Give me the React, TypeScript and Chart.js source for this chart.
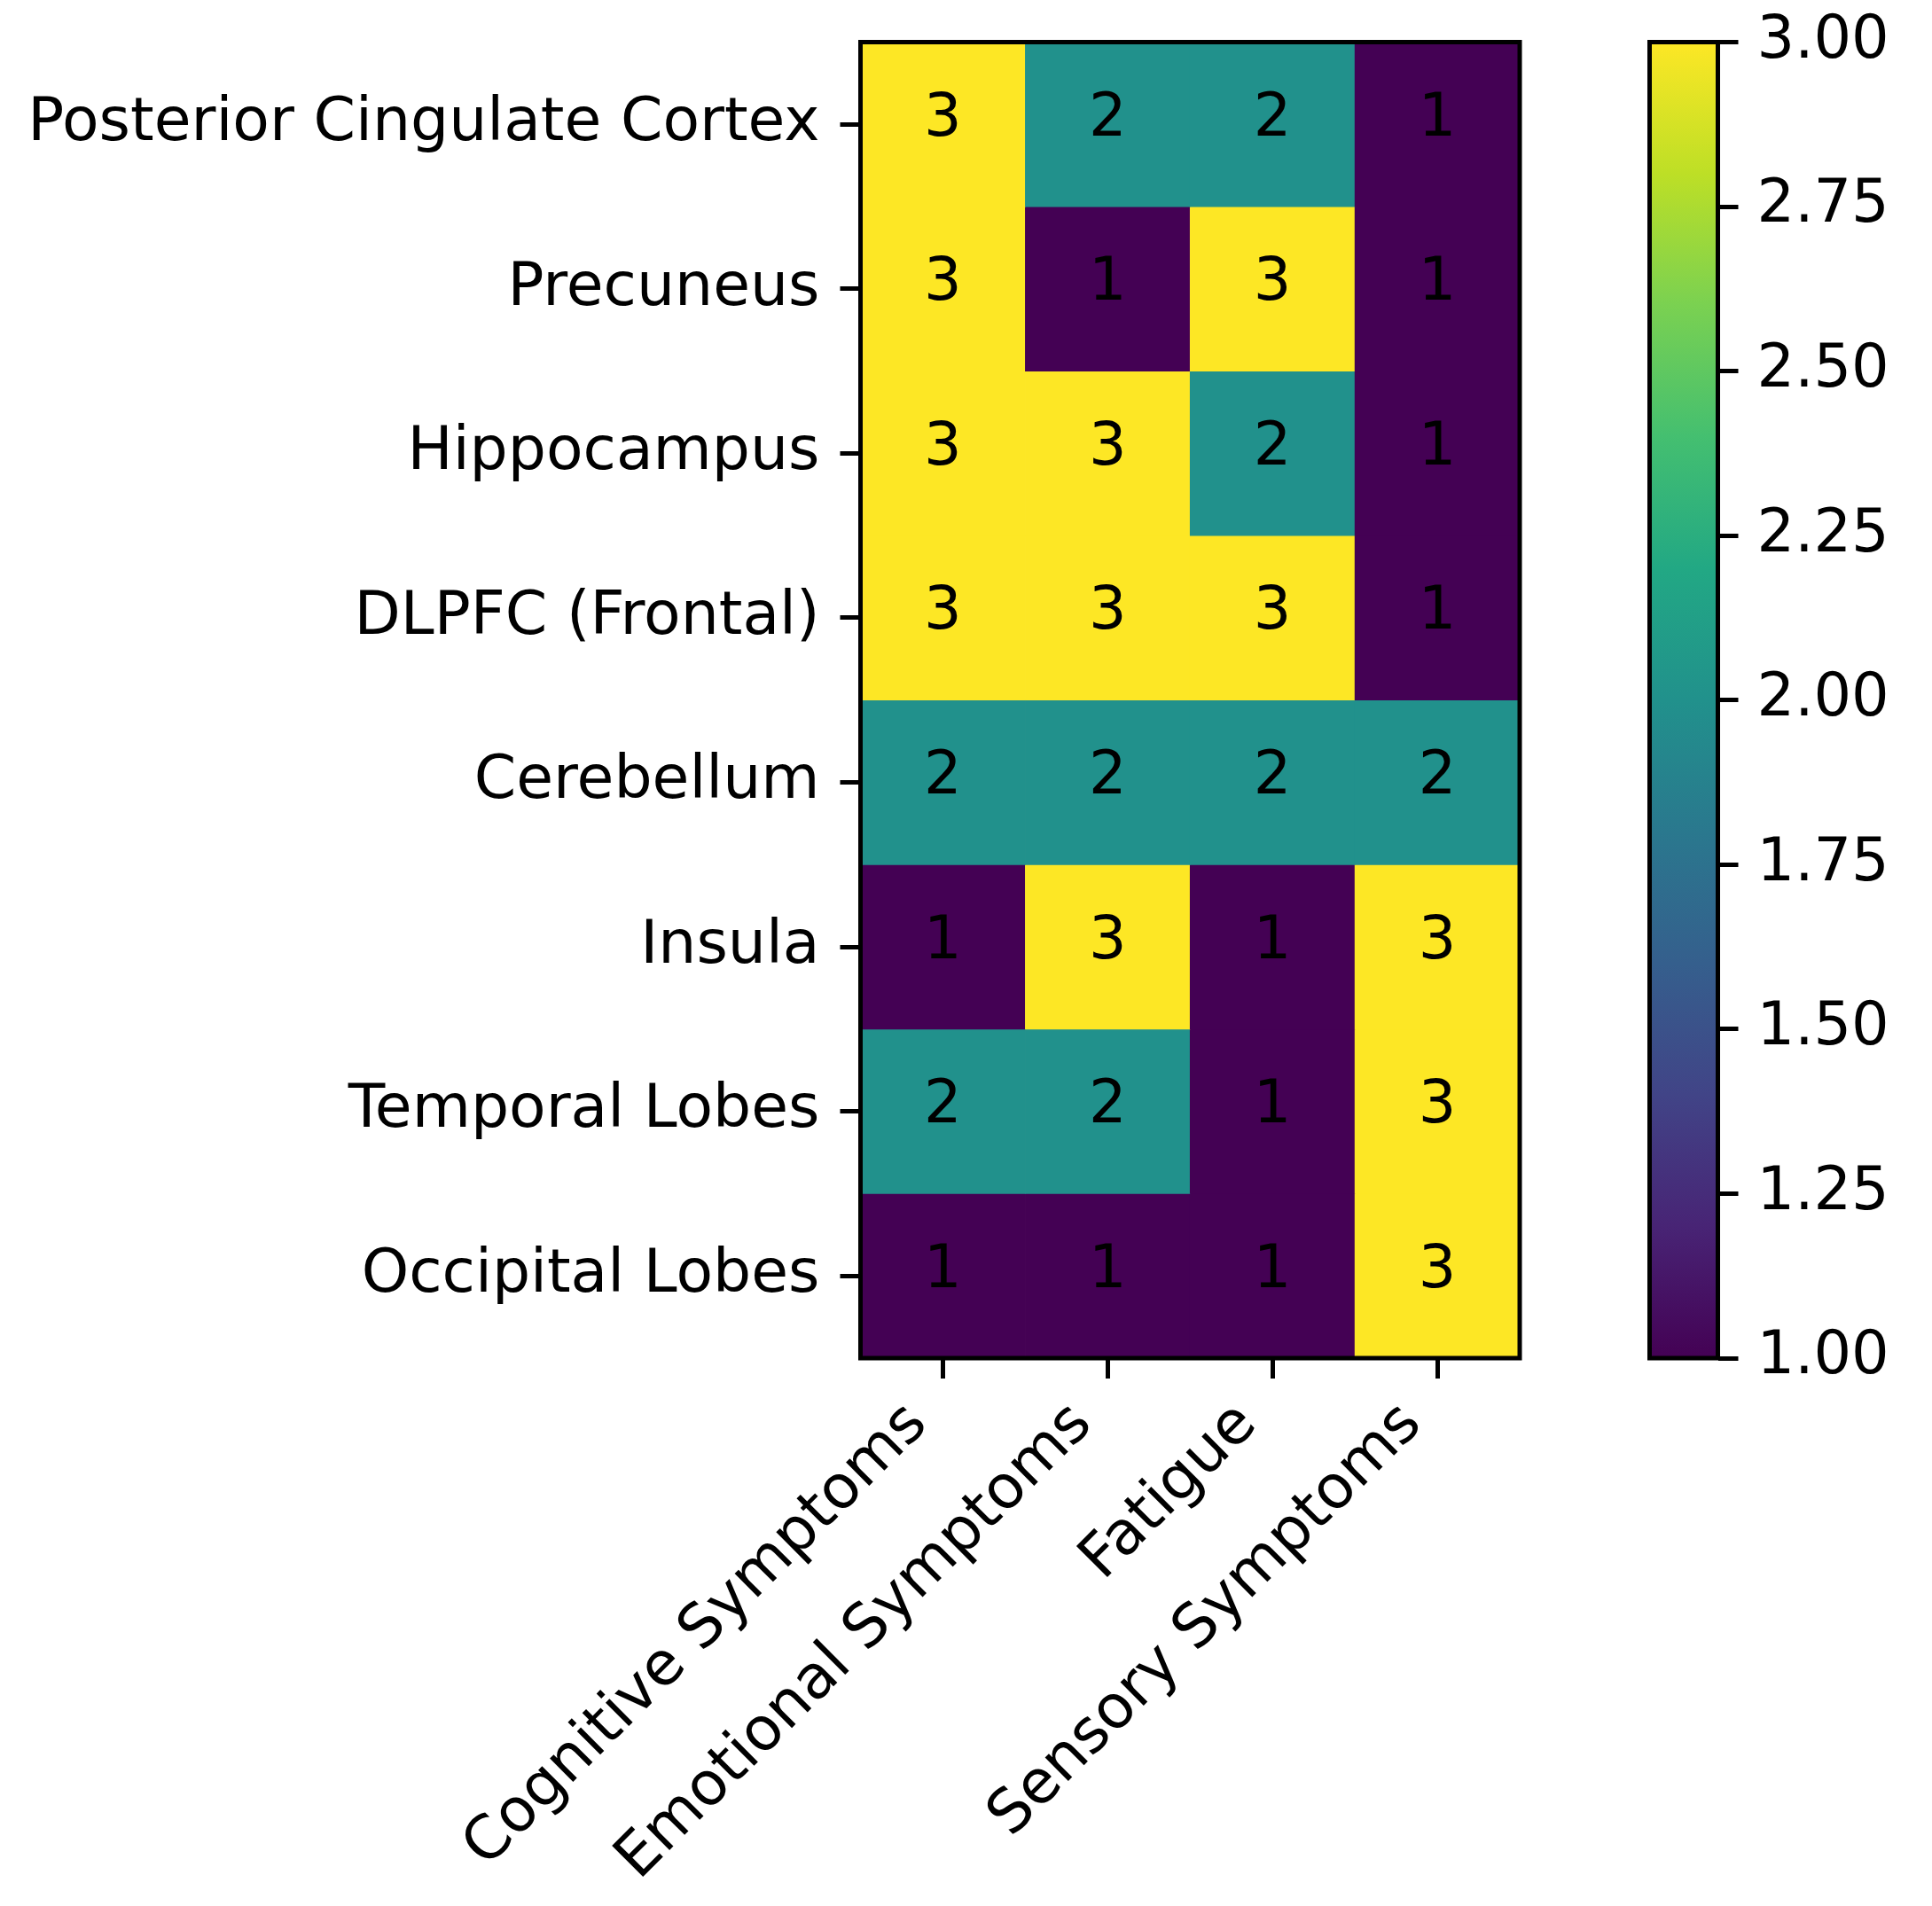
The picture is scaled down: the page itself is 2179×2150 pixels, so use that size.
import React, { useEffect, useRef } from "react";
import { Chart, registerables } from "chart.js";

Chart.register(...registerables);

const rowLabels = [
  "Posterior Cingulate Cortex",
  "Precuneus",
  "Hippocampus",
  "DLPFC (Frontal)",
  "Cerebellum",
  "Insula",
  "Temporal Lobes",
  "Occipital Lobes",
];

const colLabels = [
  "Cognitive Symptoms",
  "Emotional Symptoms",
  "Fatigue",
  "Sensory Symptoms",
];

const pccValues = [3, 2, 2, 1];
const precuneusValues = [3, 1, 3, 1];
const hippocampusValues = [3, 3, 2, 1];
const dlpfcValues = [3, 3, 3, 1];
const cerebellumValues = [2, 2, 2, 2];
const insulaValues = [1, 3, 1, 3];
const temporalValues = [2, 2, 1, 3];
const occipitalValues = [1, 1, 1, 3];

const matrix = [
  pccValues,
  precuneusValues,
  hippocampusValues,
  dlpfcValues,
  cerebellumValues,
  insulaValues,
  temporalValues,
  occipitalValues,
];

const colorbarMin = 1;
const colorbarMax = 3;
const colorbarStep = 0.25;

// viridis colormap anchor colours
const viridisStops = [
  "#440154", "#482475", "#414487", "#355f8d", "#2a788e",
  "#21918c", "#22a884", "#44bf70", "#7ad151", "#bddf26", "#fde725",
];

function hexToRgb(h: string) {
  const n = parseInt(h.slice(1), 16);
  return [(n >> 16) & 255, (n >> 8) & 255, n & 255];
}

function viridis(t: number) {
  const x = Math.max(0, Math.min(1, t)) * (viridisStops.length - 1);
  const i = Math.min(Math.floor(x), viridisStops.length - 2);
  const f = x - i;
  const a = hexToRgb(viridisStops[i]);
  const b = hexToRgb(viridisStops[i + 1]);
  const c = a.map((v, k) => Math.round(v + (b[k] - v) * f));
  return `rgb(${c[0]},${c[1]},${c[2]})`;
}

const colorFor = (v: number) => viridis((v - colorbarMin) / (colorbarMax - colorbarMin));

const FONT = "DejaVu Sans";
const FS_LABEL = 68;
const FS_NUM = 67;
const LW = 5;
const TICK_LEN = 23;

// geometry (page pixels)
const PLOT_LEFT = 970.5;
const PLOT_RIGHT = 1714;
const PLOT_TOP = 47.5;
const PLOT_BOTTOM = 1532;
const H = 2150;
const HM_W = 1740;
const CB_X = 1800;
const CB_W = 379;
const CB_LEFT = 1860.5;
const CB_RIGHT = 1937.5;

const framePlugin = {
  id: "frame",
  afterDraw(chart: any) {
    const { ctx, chartArea: a } = chart;
    ctx.save();
    ctx.strokeStyle = "#000";
    ctx.lineWidth = LW;
    ctx.strokeRect(a.left, a.top, a.right - a.left, a.bottom - a.top);
    ctx.restore();
  },
};

const annotatePlugin = {
  id: "annotate",
  afterDatasetsDraw(chart: any) {
    const { ctx } = chart;
    const xs = chart.scales.x;
    const ys = chart.scales.y;
    ctx.save();
    ctx.font = `${FS_NUM}px "${FONT}"`;
    ctx.fillStyle = "#000";
    ctx.textAlign = "center";
    ctx.textBaseline = "middle";
    matrix.forEach((row, r) => {
      row.forEach((v, c) => {
        ctx.fillText(String(v), xs.getPixelForValue(c), ys.getPixelForValue(r) - 5);
      });
    });
    ctx.restore();
  },
};

export default function App() {
  const hmRef = useRef<HTMLCanvasElement>(null);
  const cbRef = useRef<HTMLCanvasElement>(null);

  useEffect(() => {
    Chart.defaults.font.family = FONT;
    Chart.defaults.color = "#000";

    const datasets = matrix.map((row, r) => ({
      label: rowLabels[r],
      data: row.map(() => [r - 0.5, r + 0.5]),
      backgroundColor: row.map((v) => colorFor(v)),
      borderWidth: 0,
      barPercentage: 1,
      categoryPercentage: 1,
      grouped: false,
    }));

    const hm = new Chart(hmRef.current!, {
      type: "bar",
      data: { labels: colLabels, datasets: datasets as any },
      options: {
        responsive: false,
        animation: false,
        devicePixelRatio: 1,
        events: [],
        layout: { padding: { top: PLOT_TOP, right: HM_W - PLOT_RIGHT, left: 0, bottom: 0 } },
        plugins: { legend: { display: false }, tooltip: { enabled: false } },
        scales: {
          x: {
            type: "category",
            offset: true,
            grid: {
              offset: false,
              drawOnChartArea: false,
              drawTicks: true,
              tickLength: TICK_LEN,
              tickWidth: LW,
              tickColor: "#000",
            },
            border: { display: false },
            ticks: {
              autoSkip: false,
              minRotation: 45,
              maxRotation: 45,
              padding: 12,
              labelOffset: -28,
              color: "#000",
              font: { size: FS_LABEL, family: FONT },
            },
            afterFit(scale: any) {
              scale.height = H - PLOT_BOTTOM;
              scale.paddingLeft = 0;
              scale.paddingRight = 0;
            },
          },
          y: {
            type: "linear",
            min: -0.5,
            max: rowLabels.length - 0.5,
            reverse: true,
            grid: {
              drawOnChartArea: false,
              drawTicks: true,
              tickLength: TICK_LEN,
              tickWidth: LW,
              tickColor: "#000",
            },
            border: { display: false },
            afterBuildTicks(scale: any) {
              scale.ticks = rowLabels.map((_, i) => ({ value: i }));
            },
            ticks: {
              autoSkip: false,
              padding: 23,
              color: "#000",
              font: { size: FS_LABEL, family: FONT },
              callback: (v: any) => rowLabels[v as number] ?? "",
            },
            afterFit(scale: any) {
              scale.width = PLOT_LEFT;
              scale.paddingTop = 0;
              scale.paddingBottom = 0;
            },
          },
        },
      },
      plugins: [annotatePlugin, framePlugin],
    });

    const cb = new Chart(cbRef.current!, {
      type: "bar",
      data: {
        labels: [""],
        datasets: [
          {
            data: [[colorbarMin, colorbarMax]] as any,
            backgroundColor: (ctx: any) => {
              const a = ctx.chart.chartArea;
              if (!a) return "#21918c";
              const g = ctx.chart.ctx.createLinearGradient(0, a.bottom, 0, a.top);
              viridisStops.forEach((c, i) => g.addColorStop(i / (viridisStops.length - 1), c));
              return g;
            },
            borderWidth: 0,
            barPercentage: 1,
            categoryPercentage: 1,
          },
        ],
      },
      options: {
        responsive: false,
        animation: false,
        devicePixelRatio: 1,
        events: [],
        layout: {
          padding: { top: PLOT_TOP, left: CB_LEFT - CB_X, right: 0, bottom: H - PLOT_BOTTOM },
        },
        plugins: { legend: { display: false }, tooltip: { enabled: false } },
        scales: {
          x: { display: false },
          y: {
            type: "linear",
            position: "right",
            min: colorbarMin,
            max: colorbarMax,
            grid: {
              drawOnChartArea: false,
              drawTicks: true,
              tickLength: TICK_LEN,
              tickWidth: LW,
              tickColor: "#000",
            },
            border: { display: false },
            ticks: {
              stepSize: colorbarStep,
              padding: 21,
              color: "#000",
              font: { size: FS_NUM, family: FONT },
              callback: (v: any) => Number(v).toFixed(2),
            },
            afterFit(scale: any) {
              scale.width = CB_X + CB_W - CB_RIGHT;
              scale.paddingTop = 0;
              scale.paddingBottom = 0;
            },
          },
        },
      },
      plugins: [framePlugin],
    });

    return () => {
      hm.destroy();
      cb.destroy();
    };
  }, []);

  return (
    <div style={{ position: "absolute", left: 0, top: 0, width: 2179, height: H, background: "#fff" }}>
      <canvas
        ref={hmRef}
        width={HM_W}
        height={H}
        style={{ position: "absolute", left: 0, top: 0, width: HM_W, height: H }}
      />
      <canvas
        ref={cbRef}
        width={CB_W}
        height={H}
        style={{ position: "absolute", left: CB_X, top: 0, width: CB_W, height: H }}
      />
    </div>
  );
}
